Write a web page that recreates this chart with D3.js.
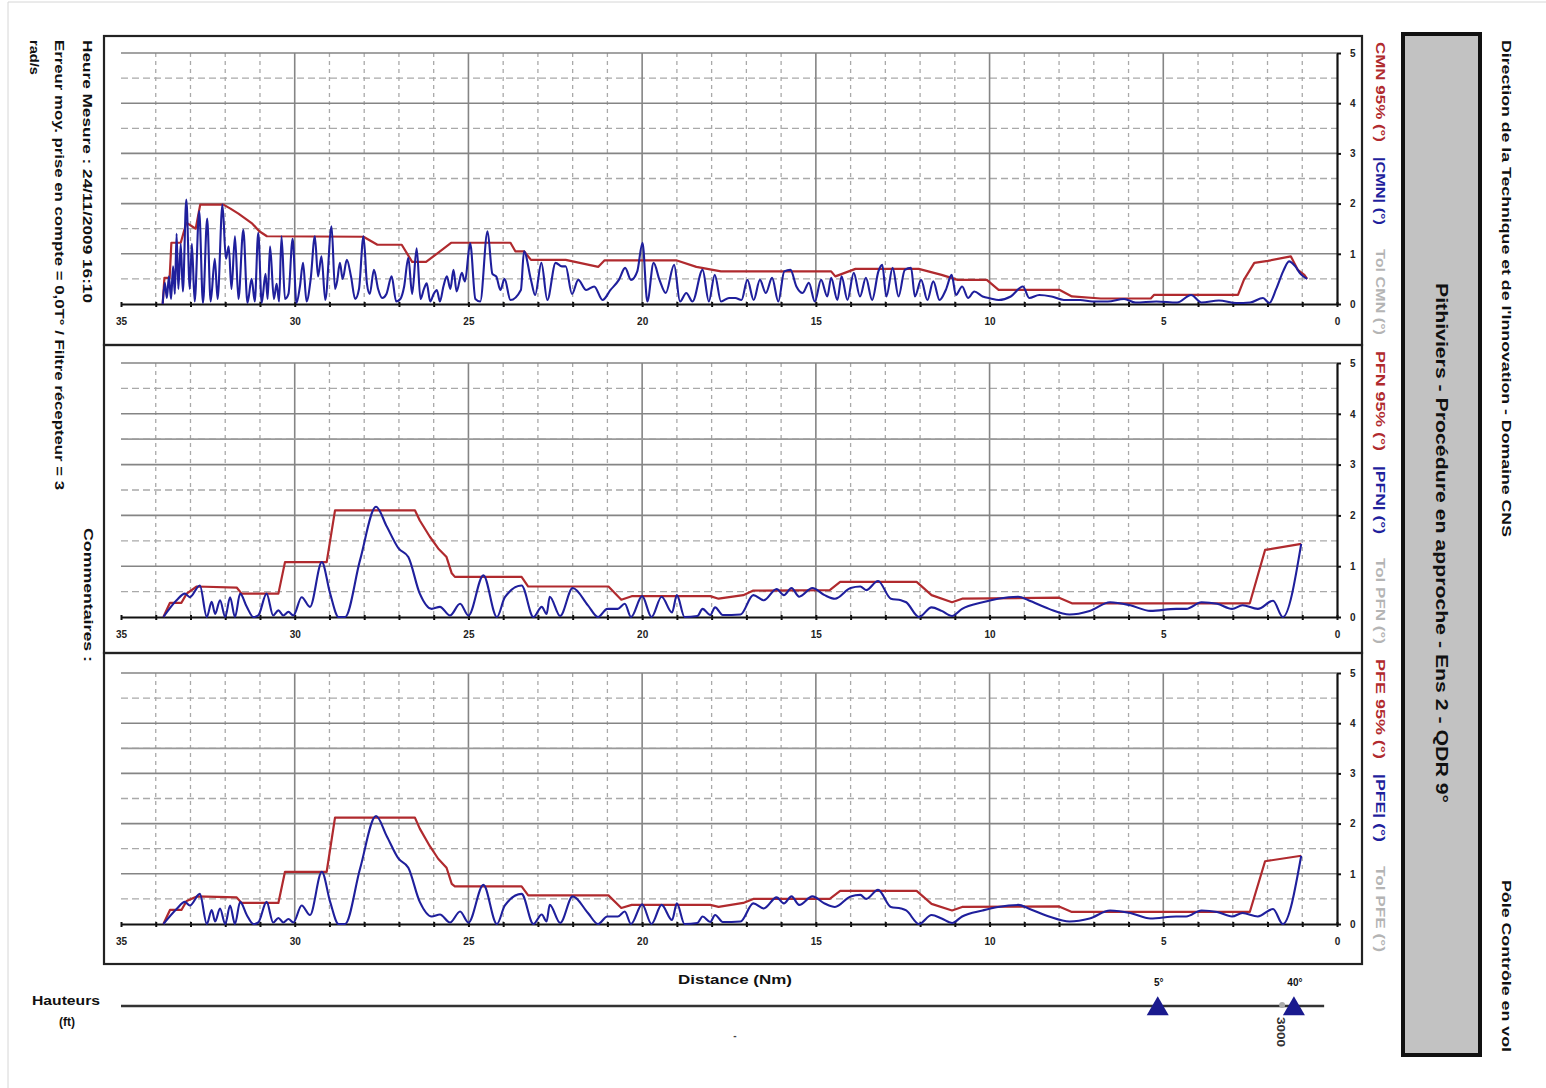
<!DOCTYPE html>
<html>
<head>
<meta charset="utf-8">
<script src="https://cdn.jsdelivr.net/npm/d3@7"></script>
<style>
  body { margin: 0; background: #fff; }
  svg text { font-family: "Liberation Sans", Arial, sans-serif; font-weight: bold; }
</style>
</head>
<body>
<svg id="chart" width="1546" height="1088"></svg>
<script>
// distance ticks (Nm) and error ticks (deg)
const xTicks = [35, 30, 25, 20, 15, 10, 5, 0];
const yTicks = [0, 1, 2, 3, 4, 5];

// CMN panel : [distance Nm, value deg]
const cmn95 = [
  [33.80, 0], [33.75, 0.52], [33.60, 0.52], [33.55, 1.22], [33.28, 1.22], [33.12, 1.62],
  [32.85, 1.5], [32.72, 1.98], [32.05, 1.98], [31.85, 1.9], [31.62, 1.8], [31.42, 1.7],
  [31.22, 1.6], [31.02, 1.45], [30.80, 1.35], [28.02, 1.34], [27.62, 1.18], [26.92, 1.18],
  [26.62, 0.84], [26.22, 0.84], [25.95, 0.98], [25.50, 1.22], [23.79, 1.22], [23.65, 1.05],
  [23.40, 1.05], [23.20, 0.88], [22.20, 0.88], [21.26, 0.74], [21.08, 0.87], [19.02, 0.87],
  [18.44, 0.74], [17.73, 0.65], [14.56, 0.65], [14.44, 0.55], [13.86, 0.7], [12.04, 0.7],
  [11.38, 0.58], [10.92, 0.48], [10.08, 0.48], [9.74, 0.28], [7.98, 0.28], [7.63, 0.15],
  [6.80, 0.11], [5.36, 0.11], [5.27, 0.18], [2.85, 0.18], [2.68, 0.48], [2.38, 0.82],
  [1.99, 0.86], [1.33, 0.95], [1.13, 0.68], [0.94, 0.58], [0.86, 0.5]
];
const cmnAbs = [
  [33.80, 0], [33.74, 0.42], [33.68, 0.12], [33.62, 0.55], [33.56, 0.1], [33.50, 0.75],
  [33.45, 0.2], [33.40, 1.4], [33.35, 0.3], [33.28, 1.2], [33.22, 0.25], [33.12, 2.08],
  [33.02, 0.3], [32.96, 1.2], [32.88, 0.05], [32.75, 1.85], [32.64, 0.02], [32.52, 1.7],
  [32.42, 0.05], [32.30, 0.9], [32.22, 0.1], [32.08, 1.98], [31.98, 0.9], [31.90, 1.15],
  [31.82, 0.3], [31.72, 1.35], [31.62, 0.1], [31.48, 1.48], [31.36, 0.02], [31.24, 0.5],
  [31.15, 0.05], [31.05, 1.42], [30.95, 0.02], [30.84, 0.6], [30.78, 0.1], [30.71, 1.15],
  [30.60, 0.1], [30.52, 0.4], [30.45, 0.05], [30.38, 1.35], [30.28, 0.1], [30.18, 0.2],
  [30.06, 1.3], [29.95, 0.02], [29.85, 0.35], [29.76, 0.82], [29.66, 0.05], [29.54, 0.5],
  [29.42, 1.35], [29.33, 0.55], [29.23, 0.95], [29.12, 0.08], [28.94, 1.55], [28.84, 0.3],
  [28.78, 0.45], [28.70, 0.82], [28.62, 0.5], [28.50, 0.88], [28.38, 0.55], [28.26, 0.1],
  [28.15, 0.3], [28.02, 1.35], [27.92, 0.4], [27.84, 0.2], [27.72, 0.68], [27.60, 0.3],
  [27.48, 0.12], [27.36, 0.2], [27.21, 0.55], [27.08, 0.05], [26.96, 0.1], [26.85, 0.35],
  [26.73, 0.92], [26.62, 0.2], [26.49, 1.11], [26.38, 0.1], [26.28, 0.3], [26.20, 0.41],
  [26.10, 0.05], [26.00, 0.2], [25.91, 0.28], [25.82, 0.05], [25.72, 0.35], [25.62, 0.55],
  [25.52, 0.3], [25.43, 0.68], [25.34, 0.25], [25.19, 0.62], [25.10, 0.45], [24.95, 1.21],
  [24.80, 0.1], [24.66, 0.05], [24.45, 1.45], [24.31, 0.6], [24.20, 0.55], [24.08, 0.28],
  [23.96, 0.5], [23.79, 0.08], [23.49, 0.28], [23.40, 1.05], [23.20, 0.48], [23.08, 0.18],
  [22.90, 0.82], [22.73, 0.08], [22.49, 0.82], [22.31, 0.75], [22.20, 0.75], [22.02, 0.2],
  [21.84, 0.48], [21.61, 0.28], [21.38, 0.35], [21.14, 0.08], [20.91, 0.28], [20.67, 0.48],
  [20.49, 0.72], [20.32, 0.48], [20.14, 0.65], [19.99, 1.22], [19.85, 0.05], [19.67, 0.82],
  [19.50, 0.48], [19.32, 0.22], [19.08, 0.78], [18.91, 0.05], [18.73, 0.22], [18.55, 0.05],
  [18.26, 0.68], [18.08, 0.05], [17.91, 0.58], [17.73, 0.05], [17.50, 0.12], [17.32, 0.12],
  [17.14, 0.08], [16.97, 0.48], [16.79, 0.08], [16.61, 0.48], [16.44, 0.22], [16.26, 0.52],
  [16.08, 0.05], [15.91, 0.65], [15.73, 0.68], [15.56, 0.35], [15.38, 0.22], [15.20, 0.42],
  [15.03, 0.05], [14.85, 0.48], [14.67, 0.15], [14.56, 0.52], [14.38, 0.08], [14.26, 0.55],
  [14.09, 0.08], [13.91, 0.62], [13.73, 0.15], [13.56, 0.52], [13.38, 0.08], [13.20, 0.65],
  [13.09, 0.78], [12.97, 0.15], [12.79, 0.72], [12.62, 0.15], [12.44, 0.68], [12.26, 0.72],
  [12.15, 0.15], [11.97, 0.48], [11.79, 0.08], [11.62, 0.45], [11.44, 0.08], [11.26, 0.28],
  [11.09, 0.58], [10.97, 0.18], [10.79, 0.35], [10.62, 0.12], [10.44, 0.25], [10.20, 0.15],
  [9.97, 0.11], [9.74, 0.08], [9.39, 0.15], [9.04, 0.35], [8.86, 0.12], [8.57, 0.18],
  [8.22, 0.15], [7.86, 0.08], [7.39, 0.08], [7.04, 0.05], [6.60, 0.05], [6.13, 0.1],
  [5.80, 0.03], [5.20, 0.05], [4.60, 0.03], [4.20, 0.18], [3.90, 0.03], [3.40, 0.07],
  [2.90, 0.02], [2.50, 0.03], [2.13, 0.12], [1.95, 0.02], [1.75, 0.3], [1.55, 0.65],
  [1.38, 0.85], [1.20, 0.75], [1.05, 0.6], [0.86, 0.5]
];

// PFN panel
const pfn95 = [
  [33.78, 0], [33.59, 0.28], [33.26, 0.28], [33.11, 0.46], [32.82, 0.6], [31.67, 0.58],
  [31.53, 0.46], [30.47, 0.46], [30.28, 1.08], [29.08, 1.08], [28.84, 2.1], [26.54, 2.1],
  [26.40, 1.9], [26.11, 1.58], [25.87, 1.35], [25.63, 1.18], [25.48, 0.86], [25.39, 0.79],
  [23.47, 0.79], [23.28, 0.6], [20.97, 0.6], [20.60, 0.34], [20.30, 0.41], [18.04, 0.41],
  [17.80, 0.36], [17.09, 0.43], [16.80, 0.52], [14.60, 0.53], [14.30, 0.69], [12.10, 0.69],
  [11.67, 0.43], [11.08, 0.29], [10.79, 0.36], [8.00, 0.38], [7.63, 0.27], [2.51, 0.27],
  [2.07, 1.32], [1.03, 1.44]
];
const pfnAbs = [
  [33.78, 0], [33.40, 0.33], [33.16, 0.46], [33.02, 0.39], [32.73, 0.62], [32.53, 0.0],
  [32.39, 0.3], [32.29, 0.06], [32.15, 0.33], [32.00, 0.0], [31.86, 0.39], [31.72, 0.0],
  [31.57, 0.46], [31.38, 0.2], [31.19, 0.0], [31.05, 0.03], [30.81, 0.46], [30.62, 0.03],
  [30.47, 0.13], [30.33, 0.03], [30.18, 0.1], [30.04, 0.03], [29.80, 0.39], [29.56, 0.2],
  [29.22, 1.08], [28.98, 0.46], [28.74, 0.0], [28.55, 0.0], [28.12, 1.12], [27.66, 2.17],
  [27.35, 1.78], [27.01, 1.35], [26.73, 1.18], [26.40, 0.46], [26.06, 0.16], [25.82, 0.2],
  [25.53, 0.03], [25.24, 0.26], [25.00, 0.03], [24.57, 0.82], [24.18, 0.0], [23.95, 0.39],
  [23.47, 0.62], [23.13, 0.0], [22.89, 0.2], [22.75, 0.06], [22.66, 0.4], [22.36, 0.02],
  [22.00, 0.57], [21.56, 0.23], [21.27, 0.0], [21.00, 0.16], [20.70, 0.16], [20.50, 0.26],
  [20.32, 0.0], [20.00, 0.41], [19.73, 0.0], [19.44, 0.4], [19.14, 0.09], [19.00, 0.43],
  [18.78, 0.0], [18.41, 0.02], [18.26, 0.16], [18.04, 0.04], [17.90, 0.19], [17.68, 0.04],
  [17.17, 0.05], [16.80, 0.43], [16.50, 0.33], [16.13, 0.55], [15.92, 0.43], [15.70, 0.57],
  [15.48, 0.4], [15.10, 0.57], [14.75, 0.43], [14.45, 0.36], [14.00, 0.57], [13.72, 0.6],
  [13.55, 0.53], [13.21, 0.71], [12.84, 0.36], [12.55, 0.33], [12.40, 0.29], [12.03, 0.0],
  [11.67, 0.19], [11.38, 0.12], [11.08, 0.02], [10.79, 0.16], [10.20, 0.29], [9.76, 0.36],
  [9.17, 0.4], [8.88, 0.33], [8.29, 0.16], [7.70, 0.05], [7.12, 0.12], [6.53, 0.29],
  [5.95, 0.23], [5.37, 0.12], [4.63, 0.16], [4.34, 0.16], [3.90, 0.29], [3.45, 0.26],
  [3.02, 0.16], [2.72, 0.23], [2.28, 0.16], [1.84, 0.32], [1.56, 0.0], [1.03, 1.44]
];
const tolPFN = 3.5;

// PFE panel
const pfe95 = [
  [33.78, 0], [33.59, 0.28], [33.26, 0.28], [33.11, 0.46], [32.82, 0.55], [31.67, 0.53],
  [31.53, 0.42], [30.47, 0.42], [30.28, 1.04], [29.08, 1.04], [28.84, 2.12], [26.54, 2.12],
  [26.40, 1.9], [26.11, 1.55], [25.87, 1.3], [25.63, 1.12], [25.48, 0.8], [25.39, 0.75],
  [23.47, 0.75], [23.28, 0.57], [20.97, 0.57], [20.60, 0.32], [20.30, 0.38], [18.04, 0.38],
  [17.80, 0.34], [17.09, 0.42], [16.80, 0.5], [14.60, 0.5], [14.30, 0.66], [12.10, 0.66],
  [11.67, 0.4], [11.08, 0.27], [10.79, 0.34], [8.00, 0.35], [7.63, 0.24], [2.51, 0.24],
  [2.07, 1.25], [1.03, 1.36]
];
const pfeAbs = [
  [33.78, 0], [33.40, 0.3], [33.16, 0.44], [33.02, 0.37], [32.73, 0.6], [32.53, 0.0],
  [32.39, 0.28], [32.29, 0.05], [32.15, 0.31], [32.00, 0.0], [31.86, 0.37], [31.72, 0.0],
  [31.57, 0.44], [31.38, 0.18], [31.19, 0.0], [31.05, 0.03], [30.81, 0.44], [30.62, 0.03],
  [30.47, 0.12], [30.33, 0.03], [30.18, 0.1], [30.04, 0.03], [29.80, 0.37], [29.56, 0.18],
  [29.22, 1.04], [28.98, 0.44], [28.74, 0.0], [28.55, 0.0], [28.12, 1.1], [27.66, 2.15],
  [27.35, 1.75], [27.01, 1.3], [26.73, 1.12], [26.40, 0.44], [26.06, 0.15], [25.82, 0.19],
  [25.53, 0.03], [25.24, 0.25], [25.00, 0.03], [24.57, 0.78], [24.18, 0.0], [23.95, 0.37],
  [23.47, 0.6], [23.13, 0.0], [22.89, 0.19], [22.75, 0.05], [22.66, 0.38], [22.36, 0.02],
  [22.00, 0.55], [21.56, 0.22], [21.27, 0.0], [21.00, 0.15], [20.70, 0.15], [20.50, 0.25],
  [20.32, 0.0], [20.00, 0.39], [19.73, 0.0], [19.44, 0.38], [19.14, 0.08], [19.00, 0.41],
  [18.78, 0.0], [18.41, 0.02], [18.26, 0.15], [18.04, 0.04], [17.90, 0.18], [17.68, 0.04],
  [17.17, 0.05], [16.80, 0.41], [16.50, 0.31], [16.13, 0.53], [15.92, 0.41], [15.70, 0.55],
  [15.48, 0.38], [15.10, 0.55], [14.75, 0.41], [14.45, 0.34], [14.00, 0.55], [13.72, 0.58],
  [13.55, 0.5], [13.21, 0.68], [12.84, 0.34], [12.55, 0.31], [12.40, 0.27], [12.03, 0.0],
  [11.67, 0.18], [11.38, 0.11], [11.08, 0.02], [10.79, 0.15], [10.20, 0.27], [9.76, 0.34],
  [9.17, 0.38], [8.88, 0.31], [8.29, 0.15], [7.70, 0.05], [7.12, 0.11], [6.53, 0.27],
  [5.95, 0.22], [5.37, 0.11], [4.63, 0.15], [4.34, 0.15], [3.90, 0.27], [3.45, 0.24],
  [3.02, 0.15], [2.72, 0.22], [2.28, 0.15], [1.84, 0.3], [1.56, 0.0], [1.03, 1.36]
];
const tolPFE = 3.5;

// glide markers on the heights strip
const markerDist = [5.16, 1.24];
const markerLabels = ['5°', '40°'];

const svg = d3.select('#chart');
const RED = '#b02a2e', BLUE = '#1f1f9c', GREY = '#b4b4b4';

// page border
svg.append('line').attr('x1', 8).attr('x2', 8).attr('y1', 2).attr('y2', 1088).attr('stroke', '#d6d6d6');
svg.append('line').attr('x1', 8).attr('x2', 1546).attr('y1', 2).attr('y2', 2).attr('stroke', '#d6d6d6');

const x = d3.scaleLinear().domain([35, 0]).range([121, 1337]);

const panels = [
  { top: 36, bottom: 345, y5: 53, y0: 304, red: cmn95, blue: cmnAbs, tol: null,
    labels: ['CMN 95% (°)', '|CMN| (°)', 'Tol CMN (°)'] },
  { top: 345, bottom: 653, y5: 363, y0: 617, red: pfn95, blue: pfnAbs, tol: tolPFN,
    labels: ['PFN 95% (°)', '|PFN| (°)', 'Tol PFN (°)'] },
  { top: 653, bottom: 964, y5: 673, y0: 924, red: pfe95, blue: pfeAbs, tol: tolPFE,
    labels: ['PFE 95% (°)', '|PFE| (°)', 'Tol PFE (°)'] }
];

// rotated text helper (reads top to bottom)
function vText(cx, y, str, size, len, fill) {
  return svg.append('text')
    .attr('x', cx).attr('y', y)
    .attr('transform', `rotate(90,${cx},${y})`)
    .attr('dominant-baseline', 'central')
    .attr('font-size', size)
    .attr('textLength', len).attr('lengthAdjust', 'spacingAndGlyphs')
    .attr('fill', fill || '#111')
    .text(str);
}

panels.forEach(p => {
  const y = d3.scaleLinear().domain([0, 5]).range([p.y0, p.y5]);
  const g = svg.append('g');

  // frame
  g.append('rect').attr('x', 104).attr('y', p.top).attr('width', 1258).attr('height', p.bottom - p.top)
    .attr('fill', 'none').attr('stroke', '#222').attr('stroke-width', 2.2);

  // grid
  const halfs = d3.range(0.5, 5, 1);
  g.selectAll('line.hd').data(halfs).enter().append('line')
    .attr('x1', x(35)).attr('x2', x(0)).attr('y1', d => y(d)).attr('y2', d => y(d))
    .attr('stroke', '#a9a9a9').attr('stroke-width', 1.3).attr('stroke-dasharray', '7,4');
  const minors = d3.range(1, 35).filter(d => d % 5 !== 0);
  g.selectAll('line.vd').data(minors).enter().append('line')
    .attr('x1', d => x(d)).attr('x2', d => x(d)).attr('y1', y(5)).attr('y2', y(0))
    .attr('stroke', '#a9a9a9').attr('stroke-width', 1.3).attr('stroke-dasharray', '4,4');
  g.selectAll('line.hs').data([1, 2, 3, 4, 5]).enter().append('line')
    .attr('x1', x(35)).attr('x2', x(0)).attr('y1', d => y(d)).attr('y2', d => y(d))
    .attr('stroke', '#858585').attr('stroke-width', 1.6);
  g.selectAll('line.vs').data([30, 25, 20, 15, 10, 5]).enter().append('line')
    .attr('x1', d => x(d)).attr('x2', d => x(d)).attr('y1', y(5)).attr('y2', y(0))
    .attr('stroke', '#858585').attr('stroke-width', 1.6);

  // tolerance
  if (p.tol !== null) {
    g.append('line').attr('x1', x(35)).attr('x2', x(0)).attr('y1', y(p.tol)).attr('y2', y(p.tol))
      .attr('stroke', '#9a9a9a').attr('stroke-width', 1.8);
  }

  // axes
  const xAxis = d3.axisBottom(x).tickValues(d3.range(0, 36)).tickSize(3).tickSizeOuter(0).tickPadding(11)
    .tickFormat(d => xTicks.includes(d) ? d : '');
  const gx = g.append('g').attr('transform', `translate(0,${p.y0})`).call(xAxis);
  gx.select('.domain').attr('stroke', '#111').attr('stroke-width', 2.2);
  gx.selectAll('.tick line').attr('stroke', '#111').attr('stroke-width', 2).attr('y1', -2);
  gx.selectAll('text').attr('font-size', 10).attr('fill', '#222')
    .attr('font-family', '"Liberation Sans", Arial, sans-serif').attr('font-weight', 'bold');

  const yAxis = d3.axisRight(y).tickValues(yTicks).tickFormat(d3.format('d'))
    .tickSize(4).tickSizeOuter(0).tickPadding(9);
  const gy = g.append('g').attr('transform', `translate(${x(0)},0)`).call(yAxis);
  gy.select('.domain').attr('stroke', '#111').attr('stroke-width', 2.2);
  gy.selectAll('.tick line').attr('stroke', '#111').attr('stroke-width', 2);
  gy.selectAll('text').attr('font-size', 10).attr('fill', '#222')
    .attr('font-family', '"Liberation Sans", Arial, sans-serif').attr('font-weight', 'bold');

  // series
  const redLine = d3.line().x(d => x(d[0])).y(d => y(d[1]));
  const blueLine = d3.line().x(d => x(d[0])).y(d => y(d[1])).curve(d3.curveMonotoneX);
  g.append('path').datum(p.red).attr('d', redLine)
    .attr('fill', 'none').attr('stroke', RED).attr('stroke-width', 2.2).attr('stroke-linejoin', 'round');
  g.append('path').datum(p.blue).attr('d', blueLine)
    .attr('fill', 'none').attr('stroke', BLUE).attr('stroke-width', 2.1).attr('stroke-linejoin', 'round');

  // series labels on the right
  const ly = p.top + 6;
  vText(1380, ly, p.labels[0], 13, 100, RED);
  vText(1380, ly + 115, p.labels[1], 13, 68, BLUE);
  vText(1380, ly + 207, p.labels[2], 13, 86, GREY);
});

// title box
svg.append('rect').attr('x', 1403).attr('y', 34).attr('width', 77).attr('height', 1021)
  .attr('fill', '#c2c2c2').attr('stroke', '#111').attr('stroke-width', 4);
vText(1441, 283, 'Pithiviers - Procédure en approche - Ens 2 - QDR 9°', 17, 520);
vText(1506, 40, "Direction de la Technique et de l'Innovation - Domaine CNS", 12, 497);
vText(1506, 880, 'Pôle Contrôle en vol', 12, 172);

// left side notes
vText(87, 40, 'Heure Mesure : 24/11/2009 16:10', 12, 263);
vText(59, 40, 'Erreur moy. prise en compte = 0,0T° / Filtre récepteur = 3', 12, 450);
vText(34, 40, 'rad/s', 12, 35);
vText(88, 528, 'Commentaires :', 12, 134);

// bottom
svg.append('text').attr('x', 735).attr('y', 979).attr('text-anchor', 'middle').attr('dominant-baseline', 'central')
  .attr('font-size', 13).attr('textLength', 114).attr('lengthAdjust', 'spacingAndGlyphs').attr('fill', '#111')
  .text('Distance (Nm)');
svg.append('text').attr('x', 66).attr('y', 1001).attr('text-anchor', 'middle').attr('dominant-baseline', 'central')
  .attr('font-size', 12).attr('textLength', 68).attr('lengthAdjust', 'spacingAndGlyphs').attr('fill', '#111')
  .text('Hauteurs');
svg.append('text').attr('x', 67).attr('y', 1022).attr('text-anchor', 'middle').attr('dominant-baseline', 'central')
  .attr('font-size', 12).attr('fill', '#111').text('(ft)');
svg.append('text').attr('x', 735).attr('y', 1035).attr('text-anchor', 'middle').attr('dominant-baseline', 'central')
  .attr('font-size', 10).attr('fill', '#444').text('-');

svg.append('line').attr('x1', x(35)).attr('x2', x(0.37)).attr('y1', 1006).attr('y2', 1006)
  .attr('stroke', '#333').attr('stroke-width', 2.5);
svg.append('circle').attr('cx', x(1.58)).attr('cy', 1005).attr('r', 3).attr('fill', '#aaa');
svg.selectAll('path.marker').data(markerDist).enter().append('path')
  .attr('class', 'marker')
  .attr('d', d3.symbol().type(d3.symbolTriangle).size(210))
  .attr('transform', d => `translate(${x(d)},1009)`)
  .attr('fill', '#1a1a8e');
svg.selectAll('text.mlab').data(markerLabels).enter().append('text')
  .attr('class', 'mlab')
  .attr('x', (d, i) => x(markerDist[i]) + 1).attr('y', 982)
  .attr('text-anchor', 'middle').attr('dominant-baseline', 'central')
  .attr('font-size', 10).attr('fill', '#111').text(d => d);
vText(1280, 1017, '3000', 10, 30, '#333');
</script>
</body>
</html>
